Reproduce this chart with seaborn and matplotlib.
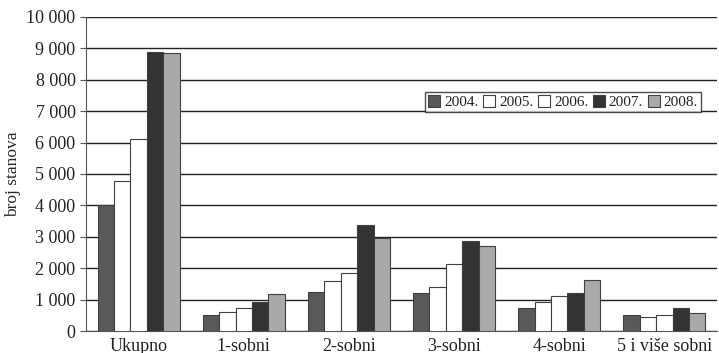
import numpy as np
import matplotlib
matplotlib.use("Agg")
import matplotlib.pyplot as plt
import pandas as pd
import seaborn as sns

# data
categories = ["Ukupno", "1-sobni", "2-sobni", "3-sobni", "4-sobni", "5 i više sobni"]
years = ["2004.", "2005.", "2006.", "2007.", "2008."]
v2004 = [4000, 510, 1230, 1200, 730, 510]
v2005 = [4780, 600, 1590, 1390, 920, 460]
v2006 = [6110, 740, 1860, 2140, 1120, 510]
v2007 = [8890, 910, 3370, 2860, 1210, 730]
v2008 = [8840, 1190, 2960, 2720, 1630, 580]
y_ticks = np.arange(0, 10001, 1000)

colors = ["#595959", "#ffffff", "#ffffff", "#333333", "#a9a9a9"]

rows = []
for yr, vals in zip(years, [v2004, v2005, v2006, v2007, v2008]):
    for cat, v in zip(categories, vals):
        rows.append({"kategorija": cat, "godina": yr, "broj": v})
df = pd.DataFrame(rows)

sns.set_style("white")
plt.rcParams["font.family"] = "serif"
plt.rcParams["font.serif"] = ["Liberation Serif"]
plt.rcParams["text.color"] = "#222222"
plt.rcParams["xtick.color"] = "#222222"
plt.rcParams["ytick.color"] = "#222222"

fig = plt.figure(figsize=(7.19, 3.53), dpi=100)
ax = fig.add_axes([86 / 719, 22 / 353, 631 / 719, 314 / 353])

sns.barplot(data=df, x="kategorija", y="broj", hue="godina",
            palette=colors, width=0.78, edgecolor="#404040", linewidth=0.8,
            saturation=1, ax=ax, zorder=3)

ax.set_ylim(0, 10000)
ax.set_xlim(-0.5, len(categories) - 0.5)
ax.set_yticks(y_ticks)
ax.set_yticklabels([f"{int(v):,}".replace(",", " ") for v in y_ticks])
ax.yaxis.grid(True, color="#222222", linewidth=1.0, zorder=0)
ax.set_axisbelow(True)

ax.set_xlabel("")
ax.set_ylabel("broj stanova", fontsize=12.5, labelpad=4)
ax.tick_params(axis="y", labelsize=13, length=4, left=True, color="#555555")
ax.tick_params(axis="x", labelsize=13, length=0, pad=5)

for side in ["top", "right"]:
    ax.spines[side].set_visible(False)
ax.spines["left"].set_color("#555555")
ax.spines["bottom"].set_color("#555555")

leg = ax.legend(loc="center", bbox_to_anchor=(0.756, 0.729), ncol=5,
                fontsize=11, frameon=True, fancybox=False,
                handlelength=0.8, handleheight=0.8, handletextpad=0.25,
                columnspacing=0.3, borderpad=0.2, borderaxespad=0)
leg.get_frame().set_edgecolor("#222222")
leg.get_frame().set_linewidth(1.0)

fig.savefig("out.png", dpi=100)
